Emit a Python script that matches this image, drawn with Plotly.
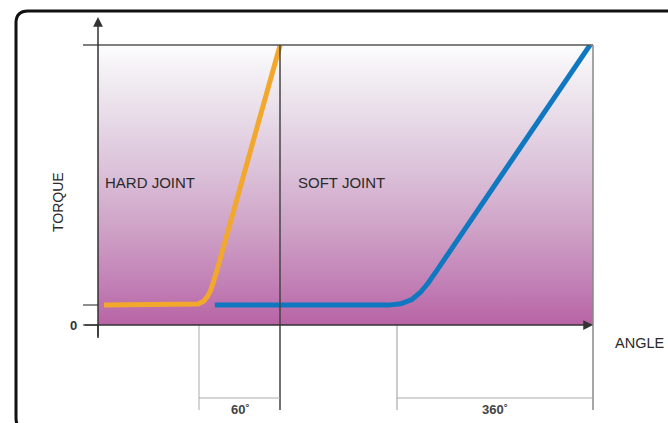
import plotly.graph_objects as go

# ---- data (x: angle, 0-100 schematic units; y: torque, 0-100) ----
hard_x = [1.2, 18.6, 20.2, 21.4, 22.2, 22.8, 23.4, 24.0, 36.8]
hard_y = [7.1, 7.1, 7.5, 8.6, 10.4, 12.5, 15.7, 19.3, 100.0]
soft_x = [23.6, 58.6, 61.2, 63.4, 65.1, 66.7, 68.5, 99.4]
soft_y = [7.1, 7.1, 7.6, 9.1, 11.6, 15.0, 19.6, 100.0]
region_labels = ["HARD JOINT", "SOFT JOINT"]
dim_labels = ["60˚", "360˚"]
x_title = "ANGLE"
y_title = "TORQUE"
zero_label = "0"

W, H = 668, 423
L, R, T, B = 98, 593, 45, 325


def px(x):
    return (x - L) / (R - L)


def py(y):
    return (B - y) / (B - T)


fig = go.Figure()

# gradient background
fig.add_trace(go.Scatter(
    x=[0, 100, 100, 0, 0], y=[0, 0, 100, 100, 0], mode="lines",
    line=dict(width=0), fill="toself",
    fillgradient=dict(type="vertical", colorscale=[
        [0.0, "#b863a5"], [0.15, "#c281b6"], [0.35, "#cfa3c7"],
        [0.55, "#dbc1d9"], [0.75, "#e8dce8"], [0.9, "#f3eff4"], [1.0, "#fdfdfe"]]),
    hoverinfo="skip", showlegend=False))

fig.add_trace(go.Scatter(x=hard_x, y=hard_y, mode="lines",
                         line=dict(color="#f2a82c", width=5), showlegend=False))
fig.add_trace(go.Scatter(x=soft_x, y=soft_y, mode="lines",
                         line=dict(color="#0f78c0", width=5), showlegend=False))

shapes = []


def seg(x0, y0, x1, y1, color, width):
    shapes.append(dict(type="line", xref="paper", yref="paper",
                       x0=px(x0), y0=py(y0), x1=px(x1), y1=py(y1),
                       line=dict(color=color, width=width)))


seg(83, 45, 593, 45, "#555555", 1.5)
seg(593, 45, 593, 410, "#888888", 1.5)
seg(280, 45, 280, 410, "#444444", 1.5)
seg(199, 325, 199, 410, "#aaaaaa", 1)
seg(397, 325, 397, 410, "#999999", 1)
seg(199, 398, 280, 398, "#aaaaaa", 1)
seg(397, 398, 593, 398, "#aaaaaa", 1)
seg(83, 305, 98, 305, "#444444", 1.2)
seg(83, 325, 98, 325, "#444444", 1.2)
seg(98, 325, 98, 338, "#333333", 1.5)

# rounded frame
r = 12
fx0, fy0, fx1, fy1 = 16, 11, 690, 430
path = (f"M {px(fx1)},{py(fy0)} L {px(fx0 + r)},{py(fy0)} "
        f"Q {px(fx0)},{py(fy0)} {px(fx0)},{py(fy0 + r)} "
        f"L {px(fx0)},{py(fy1 - r)} Q {px(fx0)},{py(fy1)} {px(fx0 + r)},{py(fy1)} "
        f"L {px(fx1)},{py(fy1)}")
shapes.append(dict(type="path", xref="paper", yref="paper", path=path,
                   line=dict(color="#111111", width=3)))

ann = []
# axis arrows
ann.append(dict(xref="paper", yref="paper", x=px(98), y=py(17), ax=0, ay=321,
                text="", showarrow=True, arrowhead=2, arrowsize=1.3,
                arrowwidth=1.5, arrowcolor="#333333"))
ann.append(dict(xref="paper", yref="paper", x=px(593), y=py(325), ax=-510, ay=0,
                text="", showarrow=True, arrowhead=2, arrowsize=1.3,
                arrowwidth=1.5, arrowcolor="#333333"))


def txt(s, x, y, size, color="#2a2a2a", xanchor="center", angle=0, bold=False):
    ann.append(dict(xref="paper", yref="paper", x=px(x), y=py(y), text=(f"<b>{s}</b>" if bold else s),
                    showarrow=False, xanchor=xanchor, yanchor="middle", textangle=angle,
                    font=dict(family="Liberation Sans, Arial", size=size, color=color)))


txt(region_labels[0], 103, 182, 15, xanchor="left")
txt(region_labels[1], 296, 182, 15, xanchor="left")
txt(y_title, 58, 202, 14, angle=-90)
txt(x_title, 639, 343, 14.5)
txt(zero_label, 73, 325, 13, color="#333333", bold=True)
txt(dim_labels[0], 240, 409, 13, color="#444444", bold=True)
txt(dim_labels[1], 495, 409, 13, color="#444444", bold=True)

fig.update_layout(
    width=W, height=H, margin=dict(l=L, r=W - R, t=T, b=H - B),
    paper_bgcolor="white", plot_bgcolor="white",
    xaxis=dict(range=[0, 100], visible=False),
    yaxis=dict(range=[0, 100], visible=False),
    shapes=shapes, annotations=ann, showlegend=False,
)

fig.write_html("out.html", config={"displayModeBar": False},
               post_script="document.body.style.margin='0px';document.body.style.overflow='hidden';")
